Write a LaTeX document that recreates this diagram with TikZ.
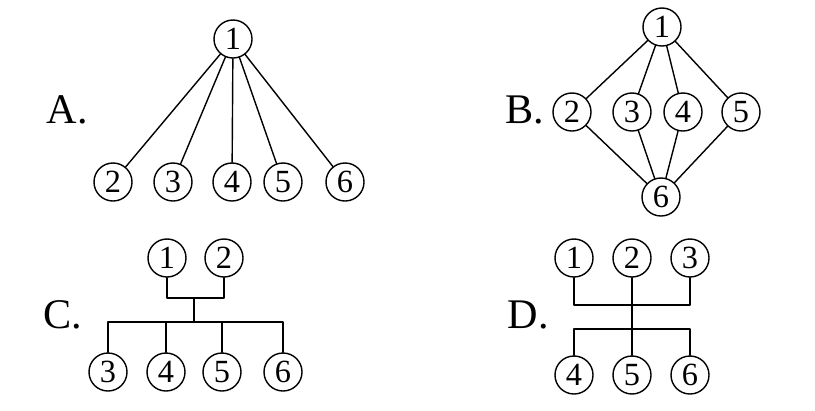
\documentclass[tikz,border=0pt]{standalone}
\usepackage{fontspec}
\setmainfont{Liberation Serif}
\begin{document}
\begin{tikzpicture}[x=0.025cm,y=-0.025cm,line cap=round,line join=round,
  vtx/.style={draw,circle,line width=1pt,minimum size=0.95cm,inner sep=0pt,font=\fontsize{23}{23}\selectfont},
  optlabel/.style={anchor=base west,inner sep=0pt,font=\fontsize{30}{30}\selectfont},
  every path/.style={line width=1pt}]
  \useasboundingbox (0,0) rectangle (815,410);
  % A
  \node[optlabel] at (46,123) {A.};
  \node[vtx] (A1) at (233,39) {1};
  \node[vtx] (A2) at (113,182) {2}; \node[vtx] (A3) at (173,182) {3};
  \node[vtx] (A4) at (232,182) {4}; \node[vtx] (A5) at (283,182) {5};
  \node[vtx] (A6) at (345,182) {6};
  \foreach \i in {2,...,6} \draw (A1)--(A\i);
  % B
  \node[optlabel] at (505,123) {B.};
  \node[vtx] (B1) at (662,27) {1};
  \node[vtx] (B2) at (572,112) {2}; \node[vtx] (B3) at (632,112) {3};
  \node[vtx] (B4) at (683,112) {4}; \node[vtx] (B5) at (741,112) {5};
  \node[vtx] (B6) at (661,197) {6};
  \foreach \i in {2,...,5} {\draw (B1)--(B\i); \draw (B\i)--(B6);}
  % C
  \node[optlabel] at (43,328) {C.};
  \node[vtx] (C1) at (167,258) {1}; \node[vtx] (C2) at (224,258) {2};
  \node[vtx] (C3) at (108,372) {3}; \node[vtx] (C4) at (166,372) {4};
  \node[vtx] (C5) at (222,372) {5}; \node[vtx] (C6) at (283,372) {6};
  \coordinate (Cj) at (194,298); \coordinate (Cb) at (194,322);
  \draw (C1.south) |- (Cj) -| (C2.south);
  \draw (Cj) -- (Cb);
  \draw (C3.north) |- (C6.north |- Cb) -- (C6.north);
  \foreach \i in {4,5} \draw (C\i.north) -- (C\i.north |- Cb);
  % D
  \node[optlabel] at (507,328) {D.};
  \node[vtx] (D1) at (574,258) {1}; \node[vtx] (D2) at (632,258) {2};
  \node[vtx] (D3) at (690,258) {3};
  \node[vtx] (D4) at (574,375) {4}; \node[vtx] (D5) at (632,375) {5};
  \node[vtx] (D6) at (690,375) {6};
  \coordinate (Du) at (632,305); \coordinate (Dl) at (632,329);
  \draw (D1.south) |- (D3.south |- Du) -- (D3.south);
  \draw (D2) -- (D5);
  \draw (D4.north) |- (D6.north |- Dl) -- (D6.north);
\end{tikzpicture}
\end{document}
